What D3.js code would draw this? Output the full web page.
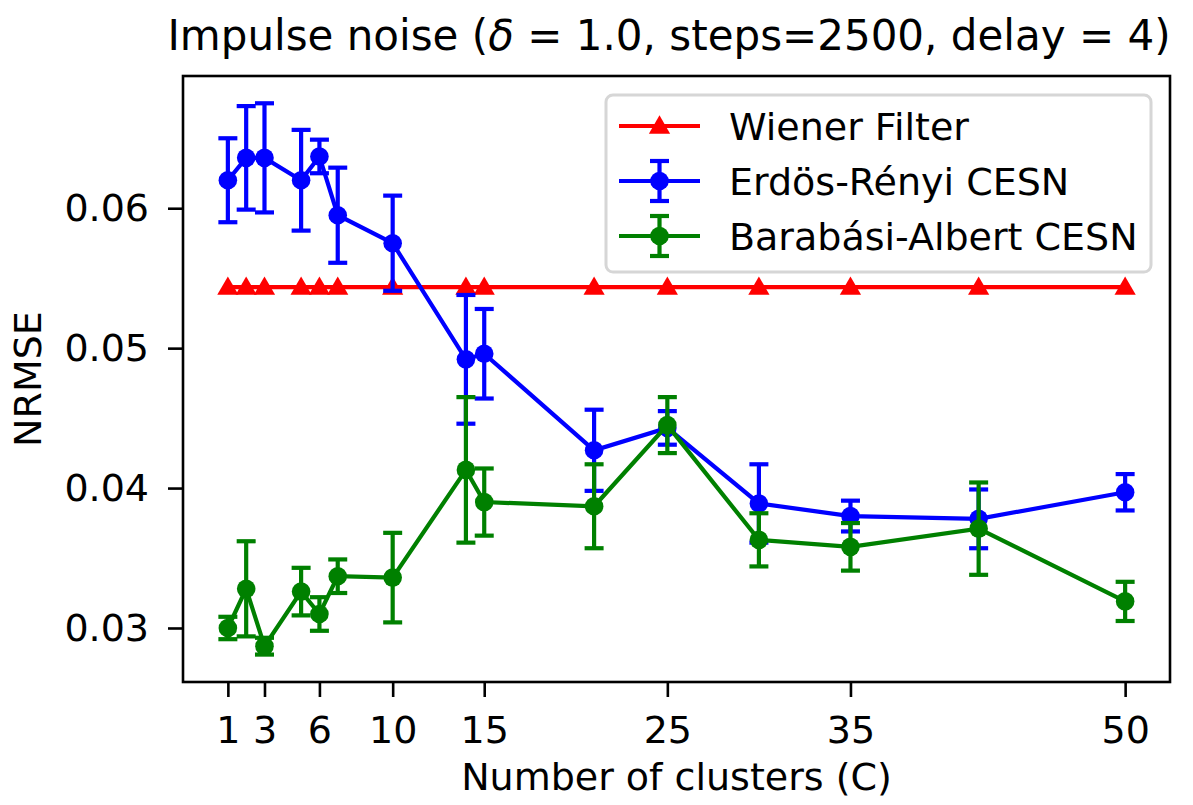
<!DOCTYPE html>
<html>
<head>
<meta charset="utf-8">
<script src="https://cdn.jsdelivr.net/npm/d3@7"></script>
<style>
  html, body { margin: 0; padding: 0; background: #ffffff; }
  svg { display: block; font-family: "DejaVu Sans", sans-serif; }
</style>
</head>
<body>
<svg id="chart" width="1193" height="805"></svg>
<script>
// ---- data ----
const clusters = [1, 2, 3, 5, 6, 7, 10, 14, 15, 21, 25, 30, 35, 42, 50];
const wienerValues = [0.05436, 0.05436, 0.05436, 0.05436, 0.05436, 0.05436, 0.05436, 0.05436, 0.05436, 0.05436, 0.05436, 0.05436, 0.05436, 0.05436, 0.05436];
const erMean = [0.0620, 0.0636, 0.0636, 0.0620, 0.0637, 0.0595, 0.0575, 0.0492, 0.0496, 0.0427, 0.0443, 0.0389, 0.0380, 0.0378, 0.0397];
const erErr  = [0.0030, 0.0037, 0.0039, 0.0036, 0.0012, 0.0034, 0.0034, 0.0046, 0.0032, 0.0029, 0.0012, 0.0028, 0.0011, 0.0021, 0.0013];
const baMean = [0.0300, 0.0328, 0.0287, 0.0326, 0.0310, 0.0337, 0.0336, 0.0413, 0.0390, 0.0387, 0.0445, 0.0363, 0.0358, 0.0371, 0.0319];
const baErr  = [0.0008, 0.0034, 0.0006, 0.0017, 0.0012, 0.0012, 0.0032, 0.0052, 0.0024, 0.0030, 0.0020, 0.0019, 0.0017, 0.0033, 0.0014];
const xTicks = [1, 3, 6, 10, 15, 25, 35, 50];
const yTicks = [0.03, 0.04, 0.05, 0.06];
const seriesNames = ["Wiener Filter", "Erdös-Rényi CESN", "Barabási-Albert CESN"];
const seriesColors = ["#ff0000", "#0000ff", "#008000"];
const titleParts = [["Impulse noise (", false], ["δ", true], [" = 1.0, steps=2500, delay = 4)", false]];
const xLabel = "Number of clusters (C)";
const yLabel = "NRMSE";

// ---- layout ----
const L = 183, R = 1170, T = 76, B = 682;
const svg = d3.select("#chart");

const x = d3.scaleLinear().domain([-1.45, 52.45]).range([L, R]);
const y = d3.scaleLinear().domain([0.02614, 0.06945]).range([B, T]);

const FS = 38;
const LW = 4.2;

// axes
const xAxis = d3.axisBottom(x).tickValues(xTicks).tickFormat(d3.format("d")).tickSize(15).tickSizeOuter(0).tickPadding(19);
const yAxis = d3.axisLeft(y).tickValues(yTicks).tickFormat(d3.format(".2f")).tickSize(15).tickSizeOuter(0).tickPadding(19);

const gx = svg.append("g").attr("transform", `translate(0,${B})`).call(xAxis);
const gy = svg.append("g").attr("transform", `translate(${L},0)`).call(yAxis);
[gx, gy].forEach(g => {
  g.select(".domain").remove();
  g.selectAll(".tick line").attr("stroke", "#000").attr("stroke-width", 2.6);
  g.selectAll(".tick text").attr("fill", "#000").style("font-size", FS + "px").style("font-family", "DejaVu Sans");
});

const plot = svg.append("g");

// clip
svg.append("defs").append("clipPath").attr("id", "clip")
  .append("rect").attr("x", L).attr("y", T).attr("width", R - L).attr("height", B - T);

const line = d3.line().x(d => x(d[0])).y(d => y(d[1]));
const tri = d3.symbol().type(d3.symbolTriangle).size(195);

function drawWiener(g) {
  const pts = clusters.map((c, i) => [c, wienerValues[i]]);
  g.append("path").attr("d", line(pts)).attr("fill", "none").attr("stroke", seriesColors[0]).attr("stroke-width", LW);
  g.selectAll(null).data(pts).enter().append("path")
    .attr("d", tri)
    .attr("transform", d => `translate(${x(d[0])},${y(d[1]) + 1.5})`)
    .attr("fill", seriesColors[0]);
}

function drawErr(g, mean, err, color) {
  const pts = clusters.map((c, i) => [c, mean[i], err[i]]);
  const capW = 9.5;
  const eb = g.append("g");
  pts.forEach(d => {
    const cx = x(d[0]);
    const y1 = y(d[1] + d[2]), y2 = y(d[1] - d[2]);
    eb.append("line").attr("x1", cx).attr("x2", cx).attr("y1", y1).attr("y2", y2)
      .attr("stroke", color).attr("stroke-width", LW);
    [y1, y2].forEach(yy => eb.append("line").attr("x1", cx - capW).attr("x2", cx + capW)
      .attr("y1", yy).attr("y2", yy).attr("stroke", color).attr("stroke-width", LW));
  });
  g.append("path").attr("d", line(pts)).attr("fill", "none").attr("stroke", color).attr("stroke-width", LW);
  g.selectAll(null).data(pts).enter().append("circle")
    .attr("cx", d => x(d[0])).attr("cy", d => y(d[1])).attr("r", 9.3).attr("fill", color);
}

const clipG = plot.append("g").attr("clip-path", "url(#clip)");
drawWiener(clipG.append("g"));
drawErr(clipG.append("g"), erMean, erErr, seriesColors[1]);
drawErr(clipG.append("g"), baMean, baErr, seriesColors[2]);

// frame
svg.append("rect").attr("x", L).attr("y", T).attr("width", R - L).attr("height", B - T)
  .attr("fill", "none").attr("stroke", "#000").attr("stroke-width", 2.6);

// legend
const lg = svg.append("g");
lg.append("rect").attr("x", 606).attr("y", 95).attr("width", 545).attr("height", 177)
  .attr("rx", 7).attr("ry", 7).attr("fill", "rgba(255,255,255,0.8)")
  .attr("stroke", "#d6d6d6").attr("stroke-width", 3);
const rowsY = [126, 181, 236];
const hx1 = 619, hx2 = 700, hxm = 659.5, tx = 729;
seriesNames.forEach((name, i) => {
  const ry = rowsY[i];
  const col = seriesColors[i];
  lg.append("line").attr("x1", hx1).attr("x2", hx2).attr("y1", ry).attr("y2", ry)
    .attr("stroke", col).attr("stroke-width", LW);
  if (i === 0) {
    lg.append("path").attr("d", tri).attr("transform", `translate(${hxm},${ry + 1.5})`).attr("fill", col);
  } else {
    lg.append("line").attr("x1", hxm).attr("x2", hxm).attr("y1", ry - 20).attr("y2", ry + 20)
      .attr("stroke", col).attr("stroke-width", LW);
    [ry - 20, ry + 20].forEach(yy => lg.append("line").attr("x1", hxm - 9.5).attr("x2", hxm + 9.5)
      .attr("y1", yy).attr("y2", yy).attr("stroke", col).attr("stroke-width", LW));
    lg.append("circle").attr("cx", hxm).attr("cy", ry).attr("r", 9.3).attr("fill", col);
  }
  lg.append("text").attr("x", tx).attr("y", ry + 14).text(name)
    .style("font-size", FS + "px").attr("fill", "#000");
});

// title and labels
const title = svg.append("text").attr("x", 669).attr("y", 50).attr("text-anchor", "middle")
  .style("font-size", "42px").attr("fill", "#000");
titleParts.forEach(([t, it]) => title.append("tspan").text(t).style("font-style", it ? "italic" : "normal"));
svg.append("text").attr("x", (L + R) / 2).attr("y", 790).attr("text-anchor", "middle")
  .style("font-size", FS + "px").attr("fill", "#000").text(xLabel);
svg.append("text").attr("transform", `translate(41,${(T + B) / 2}) rotate(-90)`).attr("text-anchor", "middle")
  .style("font-size", FS + "px").attr("fill", "#000").text(yLabel);
</script>
</body>
</html>
